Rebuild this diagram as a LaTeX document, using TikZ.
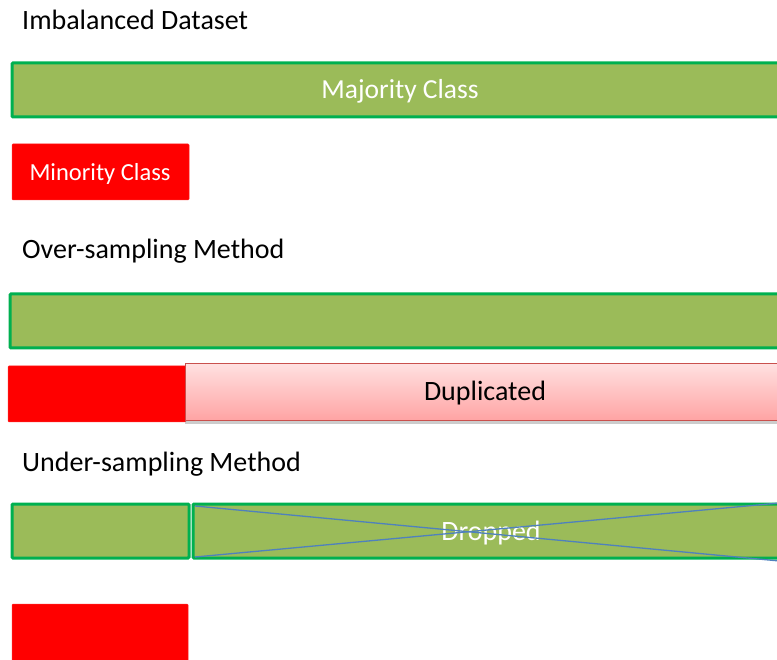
\documentclass[tikz,border=0pt]{standalone}
\usepackage{fontspec}
\setmainfont{Carlito}
\usetikzlibrary{shadows}
\definecolor{barGreen}{HTML}{9BBB59}
\definecolor{barEdge}{HTML}{00B050}
\definecolor{dupTop}{HTML}{FFE0E0}
\definecolor{dupBottom}{HTML}{FFA3A3}
\definecolor{dupEdge}{HTML}{C9504D}
\definecolor{crossBlue}{HTML}{4F81BD}
\tikzset{
  heading/.style={anchor=west, inner sep=0pt, font=\fontsize{28}{32}\selectfont},
  majbar/.style={fill=barGreen, draw=barEdge, line width=3pt, rounded corners=1pt},
  minbox/.style={fill=red, draw=red!85!white, line width=0.5pt, rounded corners=1pt},
  dupbar/.style={top color=dupTop, bottom color=dupBottom, draw=dupEdge, line width=1pt,
    drop shadow={shadow xshift=0pt, shadow yshift=-3pt, opacity=0.4}},
  whitelabel/.style={text=white, font=\fontsize{27.5}{32}\selectfont, inner sep=0pt},
  crossline/.style={draw=crossBlue, line width=1.3pt}
}
\begin{document}
\begin{tikzpicture}[x=1pt, y=-1pt]
\useasboundingbox (0,0) rectangle (777,660);
\clip (0,0) rectangle (777,660);

% Imbalanced dataset
\node[heading] (t1) at (22,20) {Imbalanced Dataset};
\draw[majbar] (12,63) rectangle (790,117);
\node[whitelabel] (maj) at (400,91) {Majority Class};
\draw[minbox] (12,144) rectangle (189,200);
\node[whitelabel, font=\fontsize{24.5}{28}\selectfont] (mino) at (100,174) {Minority Class};

% Over-sampling
\node[heading] (t2) at (22,251) {Over-sampling Method};
\draw[majbar] (10,294) rectangle (790,348);
\draw[minbox] (8,366) rectangle (186,422);
\draw[dupbar] (185,364) rectangle (790,421);
\node[font=\fontsize{28}{32}\selectfont, inner sep=0pt] (dup) at (485,393) {Duplicated};

% Under-sampling
\node[heading] (t3) at (22,464) {Under-sampling Method};
\draw[majbar] (12,504) rectangle (189,558);
\draw[majbar] (193,504) rectangle (790,558);
\node[whitelabel, font=\fontsize{28}{32}\selectfont] (drop) at (491,533) {Dropped};
\draw[crossline] (195,506) -- (790,562);
\draw[crossline] (195,557) -- (790,502);
\draw[minbox] (12,604) rectangle (188,670);
\end{tikzpicture}
\end{document}
